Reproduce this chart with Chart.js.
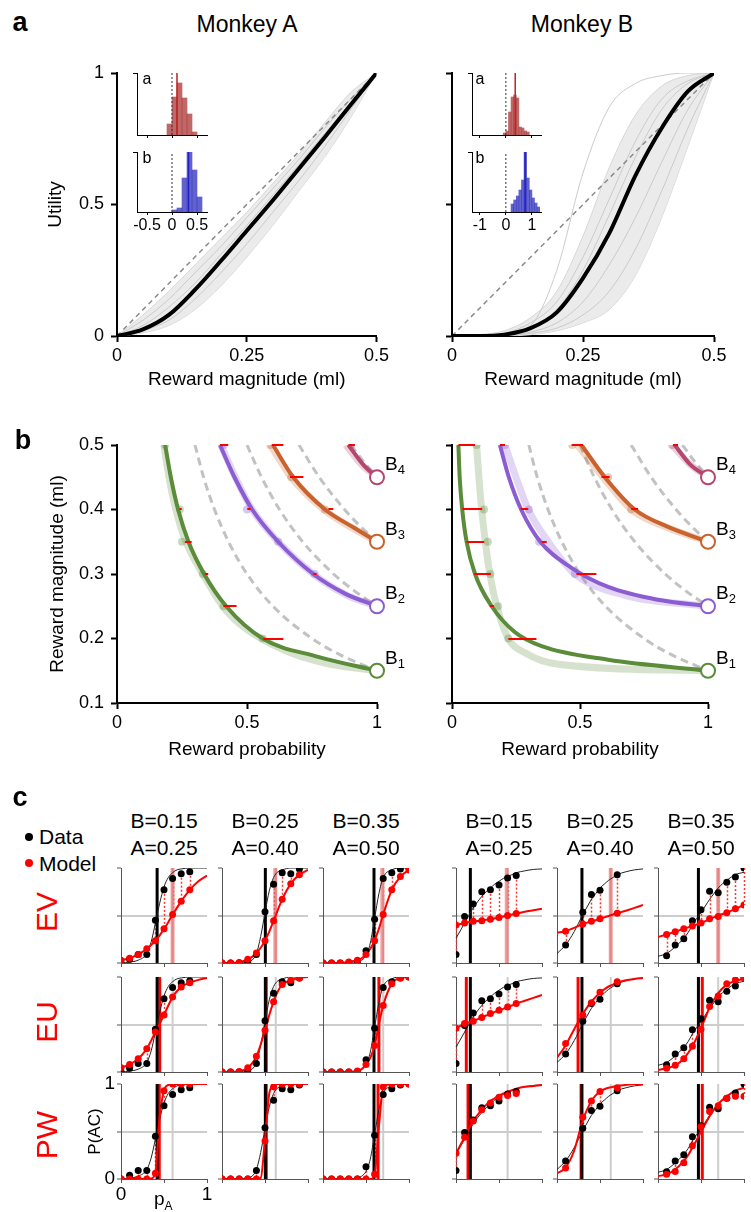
<!DOCTYPE html>
<html>
<head>
<meta charset="utf-8">
<script src="https://cdn.jsdelivr.net/npm/chart.js@4.4.0/dist/chart.umd.min.js"></script>
<style>
  body { margin: 0; background: #fff; }
  #fig { position: relative; width: 751px; height: 1212px; overflow: hidden; background: #fff;
         font-family: "Liberation Sans", Arial, sans-serif; color: #000; }
  #fig canvas { position: absolute; }
  .t { position: absolute; white-space: nowrap; line-height: 1; transform: translate(-50%, -50%); }
</style>
</head>
<body>
<div id="fig"></div>
<script>
// ---------- panel a: utility functions ----------
const uX = [0, 0.05, 0.1, 0.15, 0.2, 0.25, 0.3, 0.35, 0.4, 0.45, 0.5];
const utilMeanA = [0, 0.025, 0.08, 0.175, 0.285, 0.4, 0.515, 0.635, 0.755, 0.878, 1];
const utilHiA   = [0, 0.08, 0.17, 0.27, 0.37, 0.47, 0.58, 0.69, 0.81, 0.925, 1];
const utilLoA   = [0, 0.012, 0.04, 0.1, 0.19, 0.3, 0.42, 0.55, 0.68, 0.83, 1];
const utilGreyA = [
  [0, 0.06, 0.14, 0.24, 0.34, 0.45, 0.56, 0.67, 0.79, 0.9, 1],
  [0, 0.04, 0.11, 0.2, 0.31, 0.42, 0.535, 0.65, 0.77, 0.885, 1],
  [0, 0.02, 0.06, 0.14, 0.24, 0.35, 0.47, 0.59, 0.72, 0.86, 1]
];
const utilMeanB = [0, 0, 0.005, 0.03, 0.09, 0.22, 0.39, 0.61, 0.79, 0.93, 1];
const utilHiB   = [0, 0.005, 0.02, 0.07, 0.17, 0.38, 0.64, 0.84, 0.95, 0.99, 1];
const utilLoB   = [0, 0, 0, 0.005, 0.02, 0.05, 0.1, 0.23, 0.45, 0.72, 1];
const utilGreyB = [
  [0, 0, 0.01, 0.04, 0.25, 0.62, 0.87, 0.96, 0.99, 1, 1],
  [0, 0, 0.01, 0.05, 0.13, 0.3, 0.52, 0.74, 0.9, 0.97, 1],
  [0, 0, 0.005, 0.03, 0.1, 0.25, 0.46, 0.68, 0.86, 0.96, 1],
  [0, 0, 0.002, 0.015, 0.05, 0.13, 0.27, 0.45, 0.66, 0.86, 1],
  [0, 0, 0.001, 0.01, 0.03, 0.08, 0.17, 0.33, 0.55, 0.79, 1]
];
const diagX = [0, 0.5];
const diagY = [0, 1];

// inset histograms (parameter a in red, b in blue)
const histAaX = [-0.05, 0.05, 0.15, 0.25, 0.35, 0.45];
const histAaY = [11, 38, 52, 37, 21, 3];
const histAbX = [0.05, 0.15, 0.25, 0.35, 0.45, 0.55];
const histAbY = [2, 4, 34, 60, 42, 15];
const histBaX = [-0.05, 0.05, 0.15, 0.25, 0.35, 0.45, 0.55, 0.65, 0.75, 0.85];
const histBaY = [2, 4, 23, 38, 40, 37, 8, 7, 4, 3];
const histBbX = [0.25, 0.35, 0.45, 0.55, 0.65, 0.75, 0.85, 0.95, 1.05, 1.15, 1.25];
const histBbY = [8, 12, 16, 22, 32, 60, 34, 22, 14, 9, 5];
const histMeans = [0.1, 0.33, 0.36, 0.74];

// ---------- panel b: indifference curves ----------
const bMags = [0.15, 0.25, 0.35, 0.45];
const bNames = ['1', '2', '3', '4'];
const circP = [1, 1, 1, 1];
const evP = [
  [0.3, 0.333, 0.375, 0.429, 0.5, 0.6, 0.75, 0.857, 1],
  [0.5, 0.556, 0.625, 0.714, 0.833, 0.909, 1],
  [0.7, 0.778, 0.875, 0.933, 1],
  [0.9, 0.947, 1]
];
const evM = [
  [0.5, 0.45, 0.4, 0.35, 0.3, 0.25, 0.2, 0.175, 0.15],
  [0.5, 0.45, 0.4, 0.35, 0.3, 0.275, 0.25],
  [0.5, 0.45, 0.4, 0.375, 0.35],
  [0.5, 0.475, 0.45]
];
const curveAP = [
  [0.185, 0.207, 0.235, 0.275, 0.335, 0.42, 0.56, 0.77, 1],
  [0.396, 0.452, 0.52, 0.62, 0.755, 0.875, 1],
  [0.6, 0.678, 0.8, 0.91, 1],
  [0.89, 0.95, 1]
];
const curveAM = [
  [0.5, 0.45, 0.4, 0.35, 0.3, 0.25, 0.2, 0.172, 0.15],
  [0.5, 0.45, 0.4, 0.35, 0.3, 0.27, 0.25],
  [0.5, 0.45, 0.4, 0.372, 0.35],
  [0.5, 0.468, 0.45]
];
const lightAP = [
  [0.18, 0.2, 0.226, 0.265, 0.33, 0.42, 0.6, 0.8, 1],
  [0.4, 0.455, 0.52, 0.62, 0.755, 0.885, 1],
  [0.59, 0.67, 0.795, 0.91, 1],
  [0.88, 0.94, 1]
];
const lightAM = [
  [0.5, 0.45, 0.4, 0.35, 0.3, 0.243, 0.19, 0.162, 0.15],
  [0.5, 0.45, 0.4, 0.35, 0.3, 0.267, 0.25],
  [0.5, 0.45, 0.4, 0.37, 0.35],
  [0.5, 0.47, 0.45]
];
const curveBP = [
  [0.025, 0.03, 0.04, 0.057, 0.09, 0.155, 0.245, 0.35, 0.61, 1],
  [0.187, 0.222, 0.27, 0.345, 0.465, 0.61, 0.805, 1],
  [0.506, 0.597, 0.714, 0.844, 1],
  [0.87, 0.93, 1]
];
const curveBM = [
  [0.5, 0.45, 0.4, 0.35, 0.3, 0.25, 0.21, 0.188, 0.167, 0.15],
  [0.5, 0.45, 0.4, 0.35, 0.31, 0.28, 0.26, 0.25],
  [0.5, 0.45, 0.4, 0.373, 0.35],
  [0.5, 0.47, 0.45]
];
const lightBP = [
  [0.096, 0.105, 0.116, 0.13, 0.148, 0.175, 0.22, 0.285, 0.415, 1],
  [0.207, 0.25, 0.298, 0.376, 0.48, 0.675, 1],
  [0.49, 0.59, 0.7, 0.84, 1],
  [0.86, 0.93, 1]
];
const lightBM = [
  [0.5, 0.45, 0.4, 0.35, 0.3, 0.25, 0.2, 0.178, 0.16, 0.15],
  [0.5, 0.45, 0.4, 0.35, 0.3, 0.267, 0.25],
  [0.5, 0.45, 0.4, 0.372, 0.35],
  [0.5, 0.47, 0.45]
];
const dotAP = [[0.185, 0.242, 0.25, 0.33, 0.41, 0.56], [0.41, 0.5, 0.62, 0.76], [0.59, 0.67, 0.8], [0.9]];
const dotAM = [[0.5, 0.4, 0.35, 0.3, 0.25, 0.2], [0.5, 0.4, 0.35, 0.3], [0.5, 0.45, 0.4], [0.5]];
const dotBP = [[0.096, 0.125, 0.14, 0.15, 0.18, 0.22], [0.207, 0.3, 0.34, 0.48], [0.47, 0.61, 0.7], [0.86]];
const dotBM = [[0.5, 0.4, 0.35, 0.3, 0.25, 0.2], [0.5, 0.4, 0.35, 0.3], [0.5, 0.45, 0.4], [0.5]];
const errAM  = [0.4, 0.35, 0.3, 0.25, 0.2, 0.5, 0.4, 0.3, 0.5, 0.45, 0.4, 0.5];
const errALo = [0.24, 0.261, 0.338, 0.409, 0.563, 0.396, 0.501, 0.755, 0.595, 0.665, 0.813, 0.89];
const errAHi = [0.249, 0.287, 0.351, 0.46, 0.64, 0.428, 0.514, 0.768, 0.64, 0.717, 0.832, 0.915];
const errBM  = [0.5, 0.4, 0.35, 0.3, 0.25, 0.2, 0.5, 0.4, 0.35, 0.3, 0.5, 0.45, 0.4, 0.5];
const errBLo = [0.025, 0.04, 0.057, 0.087, 0.148, 0.22, 0.187, 0.268, 0.35, 0.486, 0.467, 0.584, 0.7, 0.863];
const errBHi = [0.09, 0.118, 0.126, 0.152, 0.164, 0.33, 0.207, 0.298, 0.37, 0.564, 0.512, 0.616, 0.727, 0.883];

// ---------- panel c: psychometric curves ----------
const headerB = ['0.15', '0.25', '0.35'];
const headerA = ['0.25', '0.40', '0.50'];
const modelNames = ['EV', 'EU', 'PW'];
const G = [0, 0.1, 0.2, 0.3, 0.35, 0.4, 0.45, 0.5, 0.55, 0.6, 0.65, 0.7, 0.8, 0.9, 1];
const pData = [
  [0, 0.1, 0.2, 0.3, 0.4, 0.5, 0.6, 0.7, 0.8],
  [0, 0.1, 0.2, 0.3, 0.4, 0.5, 0.6, 0.7, 0.8, 0.9],
  [0, 0.1, 0.2, 0.3, 0.4, 0.5, 0.6, 0.7, 0.8, 0.9, 1],
  [0, 0.1, 0.2, 0.3, 0.4, 0.5, 0.6, 0.7],
  [0.1, 0.3, 0.4, 0.5, 0.7],
  [0.1, 0.2, 0.3, 0.4, 0.5, 0.6, 0.7, 0.8, 0.9, 1]
];
const choiceData = [
  [0, 0.04, 0.09, 0.09, 0.45, 0.77, 0.89, 0.94, 0.96],
  [0, 0, 0, 0, 0.09, 0.54, 0.83, 0.95, 0.94, 0.99],
  [0, 0, 0, 0, 0, 0.13, 0.46, 0.89, 0.95, 0.99, 1],
  [0.09, 0.49, 0.62, 0.75, 0.77, 0.82, 0.895, 0.92],
  [0.19, 0.535, 0.72, 0.765, 0.93],
  [0.077, 0.19, 0.255, 0.445, 0.56, 0.755, 0.74, 0.85, 0.905, 1]
];
const choiceFit = [
  [0, 0.01, 0.03, 0.1, 0.22, 0.42, 0.63, 0.8, 0.9, 0.95, 0.98, 0.99, 1, 1, 1],
  [0, 0, 0, 0.01, 0.03, 0.1, 0.28, 0.53, 0.76, 0.9, 0.96, 0.98, 1, 1, 1],
  [0, 0, 0, 0, 0, 0.01, 0.03, 0.08, 0.21, 0.47, 0.73, 0.9, 0.98, 1, 1],
  [0.26, 0.42, 0.58, 0.7, 0.75, 0.79, 0.83, 0.86, 0.89, 0.91, 0.93, 0.95, 0.97, 0.985, 0.99],
  [0.1, 0.19, 0.33, 0.51, 0.59, 0.67, 0.73, 0.79, 0.83, 0.87, 0.9, 0.93, 0.96, 0.98, 0.99],
  [0.07, 0.1, 0.17, 0.26, 0.32, 0.4, 0.47, 0.53, 0.6, 0.67, 0.73, 0.79, 0.87, 0.93, 0.955]
];
const fitEV = [
  [0.03, 0.05, 0.09, 0.15, 0.19, 0.235, 0.29, 0.36, 0.43, 0.51, 0.58, 0.65, 0.77, 0.86, 0.92],
  [0, 0, 0.005, 0.04, 0.065, 0.105, 0.16, 0.235, 0.33, 0.445, 0.56, 0.67, 0.835, 0.93, 0.98],
  [0, 0, 0, 0.01, 0.02, 0.03, 0.05, 0.09, 0.15, 0.235, 0.36, 0.51, 0.77, 0.91, 0.98],
  [0.4, 0.42, 0.44, 0.445, 0.455, 0.46, 0.47, 0.48, 0.49, 0.5, 0.51, 0.52, 0.54, 0.555, 0.57],
  [0.32, 0.335, 0.37, 0.41, 0.425, 0.44, 0.45, 0.465, 0.48, 0.495, 0.51, 0.525, 0.55, 0.58, 0.61],
  [0.275, 0.3, 0.33, 0.36, 0.375, 0.39, 0.405, 0.42, 0.44, 0.465, 0.48, 0.5, 0.53, 0.57, 0.61]
];
const fitEU = [
  [0.045, 0.08, 0.14, 0.245, 0.33, 0.42, 0.51, 0.6, 0.7, 0.79, 0.85, 0.895, 0.94, 0.97, 0.99],
  [0, 0, 0.005, 0.045, 0.09, 0.165, 0.29, 0.44, 0.6, 0.74, 0.85, 0.92, 0.965, 0.99, 1],
  [0, 0, 0, 0, 0.005, 0.01, 0.03, 0.08, 0.15, 0.28, 0.5, 0.7, 0.93, 0.99, 1],
  [0.46, 0.51, 0.535, 0.575, 0.595, 0.615, 0.63, 0.65, 0.665, 0.685, 0.7, 0.72, 0.75, 0.78, 0.81],
  [0.15, 0.28, 0.45, 0.61, 0.68, 0.74, 0.79, 0.84, 0.87, 0.9, 0.92, 0.94, 0.965, 0.98, 0.99],
  [0.02, 0.04, 0.07, 0.14, 0.2, 0.27, 0.36, 0.46, 0.57, 0.68, 0.76, 0.83, 0.92, 0.96, 0.98]
];
const fitPW = [
  [0, 0, 0, 0, 0.005, 0.06, 0.66, 0.93, 0.99, 1, 1, 1, 1, 1, 1],
  [0, 0, 0, 0, 0, 0, 0.01, 0.42, 0.9, 0.99, 1, 1, 1, 1, 1],
  [0, 0, 0, 0, 0, 0, 0, 0, 0, 0.05, 0.55, 0.96, 1, 1, 1],
  [0.27, 0.44, 0.61, 0.73, 0.78, 0.82, 0.85, 0.88, 0.9, 0.92, 0.935, 0.95, 0.97, 0.98, 0.99],
  [0.06, 0.12, 0.3, 0.62, 0.73, 0.82, 0.88, 0.92, 0.945, 0.96, 0.97, 0.98, 0.99, 1, 1],
  [0.03, 0.05, 0.1, 0.19, 0.25, 0.33, 0.41, 0.5, 0.58, 0.66, 0.73, 0.79, 0.87, 0.93, 0.96]
];
const dotsEV = [
  [0.03, 0.05, 0.09, 0.15, 0.235, 0.36, 0.51, 0.65, 0.77],
  [0, 0, 0.005, 0.04, 0.105, 0.235, 0.445, 0.67, 0.835, 0.93],
  [0, 0, 0, 0.01, 0.03, 0.09, 0.235, 0.51, 0.77, 0.91, 0.98],
  [0.4, 0.42, 0.44, 0.445, 0.46, 0.48, 0.5, 0.52],
  [0.335, 0.41, 0.44, 0.465, 0.525],
  [0.3, 0.33, 0.36, 0.39, 0.42, 0.465, 0.49, 0.53, 0.57, 0.61]
];
const dotsEU = [
  [0.045, 0.08, 0.14, 0.245, 0.42, 0.6, 0.79, 0.895, 0.94],
  [0, 0, 0.005, 0.045, 0.165, 0.44, 0.74, 0.92, 0.965, 0.99],
  [0, 0, 0, 0, 0.01, 0.08, 0.28, 0.7, 0.93, 0.99, 1],
  [0.46, 0.51, 0.535, 0.575, 0.615, 0.65, 0.685, 0.72],
  [0.3, 0.6, 0.73, 0.84, 0.95],
  [0.04, 0.07, 0.14, 0.27, 0.45, 0.69, 0.8, 0.93, 0.97, 0.99]
];
const dotsPW = [
  [0, 0, 0, 0, 0.06, 0.93, 1, 1, 1],
  [0, 0, 0, 0, 0, 0.4, 0.97, 1, 1, 1],
  [0, 0, 0, 0, 0, 0, 0.05, 0.97, 1, 1, 1],
  [0.27, 0.44, 0.61, 0.73, 0.8, 0.86, 0.88, 0.9],
  [0.115, 0.65, 0.82, 0.92, 0.96],
  [0.05, 0.08, 0.17, 0.35, 0.55, 0.71, 0.77, 0.85, 0.87, 0.87]
];
const indiffData = [0.42, 0.504, 0.593, 0.167, 0.29, 0.47];
const indiffEV = [0.6, 0.625, 0.7, 0.6, 0.625, 0.7];
const indiffModel = [
  [0.6, 0.62, 0.69, 0.59, 0.625, 0.7],
  [0.45, 0.515, 0.65, 0.12, 0.245, 0.515],
  [0.445, 0.515, 0.64, 0.14, 0.28, 0.515]
];

// ---------- helpers ----------
const FONT = '"Liberation Sans", Arial, sans-serif';
Chart.defaults.font.family = FONT;
Chart.defaults.color = '#000';
Chart.defaults.animation = false;
Chart.defaults.responsive = false;
Chart.defaults.events = [];
Chart.defaults.plugins.legend.display = false;
Chart.defaults.plugins.tooltip.enabled = false;
Chart.defaults.elements.point.radius = 0;

const fig = document.getElementById('fig');
const xy = (xs, ys) => xs.map((v, i) => ({ x: v, y: ys[i] }));

function addCanvas(x, y, w, h) {
  const c = document.createElement('canvas');
  c.width = w; c.height = h;
  c.style.left = x + 'px'; c.style.top = y + 'px';
  c.style.width = w + 'px'; c.style.height = h + 'px';
  fig.appendChild(c);
  return c;
}

function addText(str, x, y, size, extra) {
  const d = document.createElement('div');
  d.className = 't';
  d.style.left = x + 'px';
  d.style.top = y + 'px';
  d.style.fontSize = size + 'px';
  if (extra) Object.assign(d.style, extra);
  d.innerHTML = str;
  fig.appendChild(d);
  return d;
}

const curveColors = ['#5b8c3a', '#8b5cd2', '#c9622c', '#b4466f'];
const lightColors = ['rgba(91,140,58,0.25)', 'rgba(139,92,210,0.25)', 'rgba(201,98,44,0.25)', 'rgba(180,70,111,0.25)'];
const dotColors = ['rgba(91,140,58,0.35)', 'rgba(139,92,210,0.35)', 'rgba(201,98,44,0.35)', 'rgba(180,70,111,0.35)'];

function mainAxis(min, max, step, fixSize, isX, labelFn, title, titlePad, tickPad) {
  return {
    type: 'linear', min: min, max: max,
    afterFit: s => { if (isX) s.height = fixSize; else s.width = fixSize; },
    border: { color: '#000', width: 2 },
    grid: { drawOnChartArea: false, tickLength: 6, tickColor: '#000', tickWidth: 2 },
    ticks: { stepSize: step, font: { size: 18 }, padding: tickPad, maxRotation: 0, callback: labelFn },
    title: { display: !!title, text: title || '', font: { size: 19 }, padding: titlePad }
  };
}

// ---------- panel a ----------
function utilityPlot(x, w, yw, pr, mean, hi, lo, greys, yLabels) {
  const cv = addCanvas(x, 40, w, 360);
  const ds = [
    { data: xy(uX, mean), borderColor: '#000', borderWidth: 4, cubicInterpolationMode: 'monotone', order: 1 },
    { data: xy(diagX, diagY), borderColor: '#8a8a8a', borderWidth: 1.5, borderDash: [5, 4], order: 2 }
  ];
  greys.forEach(g => ds.push({ data: xy(uX, g), borderColor: 'rgba(200,200,200,0.95)', borderWidth: 1,
    cubicInterpolationMode: 'monotone', order: 3 }));
  ds.push({ data: xy(uX, hi), borderColor: '#d6d6d6', borderWidth: 1, cubicInterpolationMode: 'monotone',
    fill: '+1', backgroundColor: 'rgba(230,230,230,0.8)', order: 4 });
  ds.push({ data: xy(uX, lo), borderColor: '#d6d6d6', borderWidth: 1, cubicInterpolationMode: 'monotone', order: 5 });

  new Chart(cv, {
    type: 'line',
    data: { datasets: ds },
    options: {
      layout: { padding: { left: 0, top: 33, right: pr, bottom: 4 } },
      scales: {
        x: mainAxis(0, 0.5, 0.25, 60, true, v => String(v), 'Reward magnitude (ml)', { top: 0, bottom: 5 }, 3),
        y: mainAxis(0, 1, 0.5, yw, false, v => yLabels ? String(v) : '', yLabels ? 'Utility' : '', { top: 44, bottom: 0 }, 7)
      }
    }
  });
}

function histInset(x, y, h, pad, xh, xmin, xmax, tickVals, showLabels, binX, binY, ymax, meanX, fill, lineCol) {
  const cv = addCanvas(x, y, 90, h);
  new Chart(cv, {
    type: 'bar',
    data: {
      datasets: [
        { type: 'line', data: xy([meanX, meanX], [0, ymax]), borderColor: lineCol, borderWidth: 1.5, order: 0 },
        { type: 'line', data: xy([0, 0], [0, ymax]), borderColor: '#333', borderWidth: 1, borderDash: [2, 2], order: 1 },
        { data: xy(binX, binY), backgroundColor: fill, barPercentage: 1, categoryPercentage: 1, order: 2 }
      ]
    },
    options: {
      layout: { padding: pad },
      scales: {
        x: {
          type: 'linear', min: xmin, max: xmax, offset: false,
          afterBuildTicks: s => { s.ticks = tickVals.map(v => ({ value: v })); },
          afterFit: s => { s.height = xh; },
          border: { color: '#000', width: 1 },
          grid: { drawOnChartArea: false, offset: false, tickLength: 3, tickColor: '#000' },
          ticks: { display: showLabels, font: { size: 16 }, padding: 1, maxRotation: 0, autoSkip: false, callback: v => String(v) }
        },
        y: {
          min: 0, max: ymax,
          afterBuildTicks: s => { s.ticks = [{ value: ymax }]; },
          afterFit: s => { s.width = 0; },
          border: { color: '#000', width: 1 },
          grid: { drawOnChartArea: false, tickLength: 4, tickColor: '#000' },
          ticks: { display: false }
        }
      }
    }
  });
}

utilityPlot(0, 392, 117, 15, utilMeanA, utilHiA, utilLoA, utilGreyA, true);
utilityPlot(392, 359, 60, 37, utilMeanB, utilHiB, utilLoB, utilGreyB, false);

const redFill = 'rgba(168,45,45,0.72)';
const blueFill = 'rgba(45,45,190,0.75)';
histInset(127, 63, 78, { left: 10, top: 10, right: 10, bottom: 6 }, 0, -0.7, 0.7, [-0.5, 0, 0.5], false,
  histAaX, histAaY, 62, histMeans[0], redFill, '#c02020');
histInset(127, 142, 100, { left: 10, top: 10, right: 10, bottom: 4 }, 26, -0.7, 0.7, [-0.5, 0, 0.5], true,
  histAbX, histAbY, 60, histMeans[1], blueFill, '#2020c0');
histInset(462, 63, 78, { left: 10, top: 10, right: 11, bottom: 6 }, 0, -1.3, 1.35, [-1, 0, 1], false,
  histBaX, histBaY, 62, histMeans[2], redFill, '#c02020');
histInset(462, 142, 100, { left: 10, top: 10, right: 11, bottom: 4 }, 26, -1.3, 1.35, [-1, 0, 1], true,
  histBbX, histBbY, 60, histMeans[3], blueFill, '#2020c0');

// ---------- panel b ----------
function errPlugin(eM, eLo, eHi) {
  return {
    id: 'errbars',
    afterDatasetsDraw(chart) {
      const { ctx, scales: { x, y } } = chart;
      ctx.save();
      ctx.strokeStyle = '#f00';
      ctx.lineWidth = 2;
      eM.forEach((m, i) => {
        const py = Math.round(y.getPixelForValue(m));
        ctx.beginPath();
        ctx.moveTo(x.getPixelForValue(eLo[i]), py);
        ctx.lineTo(Math.max(x.getPixelForValue(eHi[i]), x.getPixelForValue(eLo[i]) + 2), py);
        ctx.stroke();
      });
      ctx.restore();
    }
  };
}

const bLabelPlugin = {
  id: 'blabels',
  afterDraw(chart) {
    const { ctx, scales: { x, y } } = chart;
    ctx.save();
    ctx.fillStyle = '#000';
    ctx.textBaseline = 'alphabetic';
    bMags.forEach((m, i) => {
      const px = x.getPixelForValue(circP[i]) + 8;
      const py = y.getPixelForValue(m) - 7;
      ctx.font = '19px ' + FONT;
      ctx.fillText('B', px, py);
      const wB = ctx.measureText('B').width;
      ctx.font = '13px ' + FONT;
      ctx.fillText(bNames[i], px + wB, py + 4);
    });
    ctx.restore();
  }
};

function indiffPlot(x, w, yw, pr, cP, cM, lP, lM, dP, dM, eM, eLo, eHi, yLabels) {
  const cv = addCanvas(x, 425, w, 345);
  const ds = [{
    data: xy(circP, bMags), showLine: false, pointRadius: 7, pointBackgroundColor: '#fff',
    pointBorderColor: curveColors, pointBorderWidth: 2, clip: false, order: 0
  }];
  cP.forEach((p, k) => ds.push({ data: xy(p, cM[k]), borderColor: curveColors[k], borderWidth: 4,
    cubicInterpolationMode: 'monotone', order: 2 }));
  dP.forEach((p, k) => ds.push({ data: xy(p, dM[k]), showLine: false, pointRadius: 4, pointBackgroundColor: dotColors[k],
    pointBorderWidth: 0, order: 3 }));
  lP.forEach((p, k) => ds.push({ data: xy(p, lM[k]), borderColor: lightColors[k], borderWidth: 7,
    cubicInterpolationMode: 'monotone', order: 4 }));
  evP.forEach((p, k) => ds.push({ data: xy(p, evM[k]), borderColor: '#c2c2c2', borderWidth: 3, borderDash: [8, 5],
    cubicInterpolationMode: 'monotone', order: 5 }));

  new Chart(cv, {
    type: 'line',
    data: { datasets: ds },
    options: {
      layout: { padding: { left: 0, top: 20, right: pr, bottom: 4 } },
      scales: {
        x: mainAxis(0, 1, 0.5, 63, true, v => String(v), 'Reward probability', { top: 0, bottom: 5 }, 3),
        y: mainAxis(0.1, 0.5, 0.1, yw, false, v => yLabels ? v.toFixed(1) : '',
          yLabels ? 'Reward magnitude (ml)' : '', { top: 46, bottom: 0 }, 7)
      }
    },
    plugins: [errPlugin(eM, eLo, eHi), bLabelPlugin]
  });
}

indiffPlot(0, 451, 117, 74, curveAP, curveAM, lightAP, lightAM, dotAP, dotAM, errAM, errALo, errAHi, true);
indiffPlot(392, 359, 60, 43, curveBP, curveBM, lightBP, lightBM, dotBP, dotBM, errBM, errBLo, errBHi, false);

// ---------- panel c ----------
const colLeft = [121, 222, 323, 456, 557, 658];
const rowTop = [868, 977, 1084];
const fitsByRow = [fitEV, fitEU, fitPW];
const dotsByRow = [dotsEV, dotsEU, dotsPW];

function connectorPlugin(ps, a, b) {
  return {
    id: 'connectors',
    beforeDatasetsDraw(chart) {
      const { ctx, scales: { x, y } } = chart;
      ctx.save();
      ctx.strokeStyle = '#f33';
      ctx.lineWidth = 1.5;
      ctx.setLineDash([2, 2]);
      ps.forEach((p, i) => {
        if (Math.abs(a[i] - b[i]) < 0.04) return;
        const px = Math.round(x.getPixelForValue(p)) + 0.5;
        ctx.beginPath();
        ctx.moveTo(px, y.getPixelForValue(a[i]));
        ctx.lineTo(px, y.getPixelForValue(b[i]));
        ctx.stroke();
      });
      ctx.restore();
    }
  };
}

const pALabelPlugin = {
  id: 'pAlabel',
  afterDraw(chart) {
    const { ctx, chartArea } = chart;
    const cx = (chartArea.left + chartArea.right) / 2;
    ctx.save();
    ctx.fillStyle = '#000';
    ctx.textBaseline = 'alphabetic';
    ctx.font = '19px ' + FONT;
    ctx.fillText('p', cx - 10, chartArea.bottom + 26);
    const wp = ctx.measureText('p').width;
    ctx.font = '12px ' + FONT;
    ctx.fillText('A', cx - 10 + wp, chartArea.bottom + 31);
    ctx.restore();
  }
};

function psyPlot(col, row) {
  const L = colLeft[col], T = rowTop[row];
  const special = (col === 0 && row === 2);
  let cv, pad, yw, xh;
  if (special) {
    cv = addCanvas(L - 43, T - 14, 86 + 43 + 8, 142);
    pad = { left: 2, top: 14, right: 8, bottom: 3 };
    yw = 41; xh = 30;
  } else {
    cv = addCanvas(L - 8, T - 8, 102, 111);
    pad = 8; yw = 0; xh = 0;
  }
  const fit = fitsByRow[row][col];
  const dots = dotsByRow[row][col];
  const redV = indiffModel[row][col];
  const ds = [
    { data: xy(pData[col], dots), showLine: false, pointRadius: 3.5, pointBackgroundColor: '#f00', pointBorderWidth: 0, order: 1 },
    { data: xy(pData[col], choiceData[col]), showLine: false, pointRadius: 3.5, pointBackgroundColor: '#000', pointBorderWidth: 0, order: 2 },
    { data: xy(G, fit), borderColor: '#f00', borderWidth: 2, cubicInterpolationMode: 'monotone', order: 3 },
    { data: xy(G, choiceFit[col]), borderColor: '#222', borderWidth: 1, cubicInterpolationMode: 'monotone', order: 4 },
    { data: xy([indiffData[col], indiffData[col]], [0, 1]), borderColor: '#000', borderWidth: 3, order: 5 },
    { data: xy([redV, redV], [0, 1]), borderColor: row === 0 ? 'rgba(236,80,80,0.55)' : '#f00',
      borderWidth: row === 0 ? 4 : 3, order: 6 },
    { data: xy([indiffEV[col], indiffEV[col]], [0, 1]), borderColor: '#cdcdcd', borderWidth: 2, order: 7 }
  ];
  const plugins = [connectorPlugin(pData[col], choiceData[col], dots)];
  if (special) plugins.push(pALabelPlugin);
  const edgeLabel = v => (v === 0 || v === 1) ? String(v) : '';
  new Chart(cv, {
    type: 'line',
    data: { datasets: ds },
    options: {
      layout: { padding: pad },
      scales: {
        x: {
          type: 'linear', min: 0, max: 1,
          afterFit: s => { s.height = xh; },
          border: { color: '#555', width: 1 },
          grid: { drawOnChartArea: false, tickLength: 4, tickColor: '#555' },
          ticks: { stepSize: 0.5, display: special, font: { size: 19 }, padding: 0, maxRotation: 0, callback: edgeLabel }
        },
        y: {
          min: 0, max: 1,
          afterFit: s => { s.width = yw; },
          border: { color: '#555', width: 1 },
          grid: {
            color: c => (c.tick && c.tick.value === 0.5) ? '#cdcdcd' : 'rgba(0,0,0,0)',
            lineWidth: 2, tickLength: 4, tickColor: '#555', tickWidth: 1
          },
          ticks: { stepSize: 0.5, display: special, font: { size: 19 }, padding: 2, callback: edgeLabel },
          title: { display: special, text: 'P(AC)', font: { size: 17 }, padding: { top: 5, bottom: 0 } }
        }
      }
    },
    plugins: plugins
  });
}

for (let r = 0; r < 3; r++) {
  for (let c = 0; c < 6; c++) psyPlot(c, r);
}

// ---------- text ----------
addText('a', 20, 22, 27, { fontWeight: 'bold' });
addText('b', 23, 440, 27, { fontWeight: 'bold' });
addText('c', 20, 797, 27, { fontWeight: 'bold' });
addText('Monkey A', 247, 24, 23);
addText('Monkey B', 582, 24, 23);
addText('a', 147, 79, 16);
addText('b', 147, 158, 16);
addText('a', 480, 79, 16);
addText('b', 480, 158, 16);

colLeft.forEach((L, c) => {
  addText('B=' + headerB[c % 3], L + 43, 820, 21);
  addText('A=' + headerA[c % 3], L + 43, 847, 21);
});

addText('', 29, 837, 8, { width: '8px', height: '8px', borderRadius: '50%', background: '#000' });
addText('Data', 39, 836, 21, { transform: 'translate(0,-50%)' });
addText('', 29, 863, 8, { width: '8px', height: '8px', borderRadius: '50%', background: '#f00' });
addText('Model', 39, 863, 21, { transform: 'translate(0,-50%)' });

[912, 1022, 1135].forEach((yc, i) => {
  addText(modelNames[i], 47, yc, 30, { color: '#f00', transform: 'translate(-50%,-50%) rotate(-90deg)' });
});
</script>
</body>
</html>
